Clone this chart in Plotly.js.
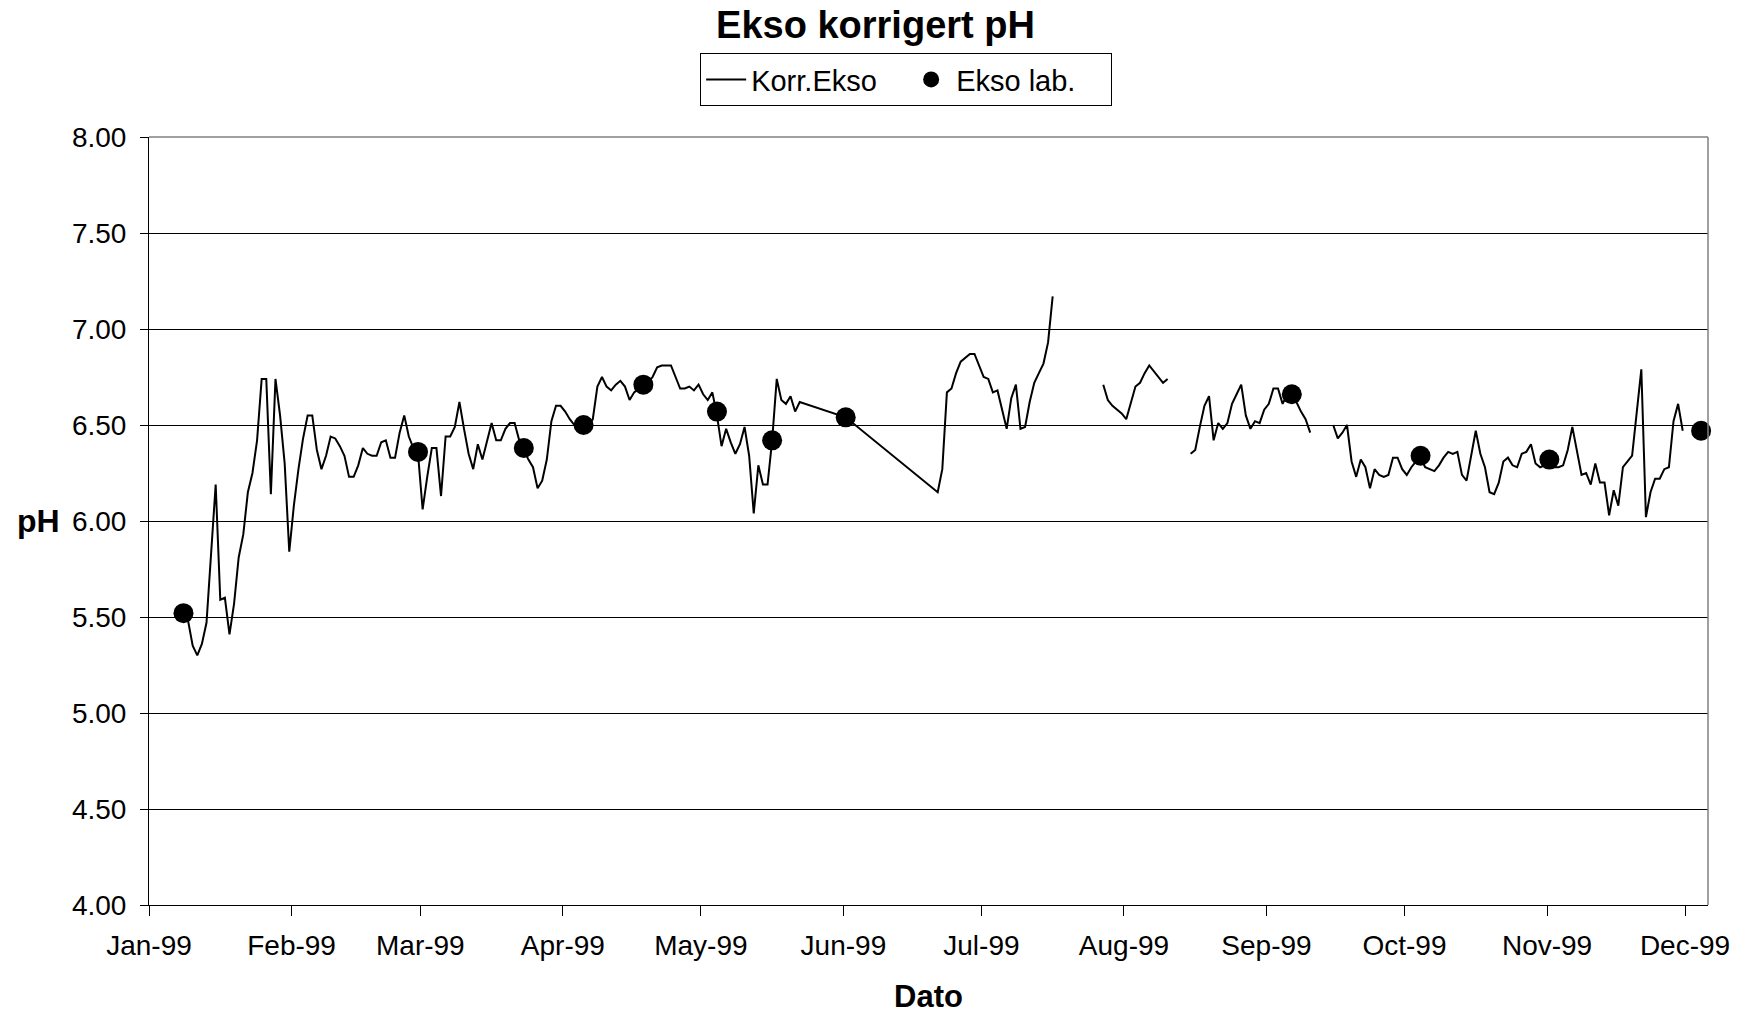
<!DOCTYPE html>
<html>
<head>
<meta charset="utf-8">
<script src="https://cdn.plot.ly/plotly-3.0.1.min.js"></script>
<style>html,body{margin:0;padding:0;background:#fff;}#chart{width:1751px;height:1020px;}</style>
</head>
<body>
<div id="chart"></div>
<script>
// Korr.Ekso daily series (null = gap in the record)
const korrDates = [
 '1999-01-08','1999-01-09','1999-01-10','1999-01-11','1999-01-12','1999-01-13','1999-01-15','1999-01-16','1999-01-17','1999-01-18','1999-01-19','1999-01-20','1999-01-21','1999-01-22','1999-01-23','1999-01-24','1999-01-25','1999-01-26','1999-01-27','1999-01-28','1999-01-29','1999-01-30','1999-01-31',
 '1999-02-01','1999-02-02','1999-02-03','1999-02-04','1999-02-05','1999-02-06','1999-02-07','1999-02-08','1999-02-09','1999-02-10','1999-02-11','1999-02-12','1999-02-13','1999-02-14','1999-02-15','1999-02-16','1999-02-17','1999-02-18','1999-02-19','1999-02-20','1999-02-21','1999-02-22','1999-02-23','1999-02-24','1999-02-25','1999-02-26','1999-02-27','1999-02-28',
 '1999-03-01','1999-03-02','1999-03-03','1999-03-04','1999-03-05','1999-03-06','1999-03-07','1999-03-08','1999-03-09','1999-03-10','1999-03-11','1999-03-12','1999-03-13','1999-03-14','1999-03-15','1999-03-16','1999-03-17','1999-03-18','1999-03-19','1999-03-20','1999-03-21','1999-03-22','1999-03-23','1999-03-24','1999-03-25','1999-03-26','1999-03-27','1999-03-28','1999-03-29','1999-03-30','1999-03-31',
 '1999-04-01','1999-04-02','1999-04-03','1999-04-04','1999-04-05','1999-04-06','1999-04-07','1999-04-08','1999-04-09','1999-04-10','1999-04-11','1999-04-12','1999-04-13','1999-04-14','1999-04-15','1999-04-16','1999-04-17','1999-04-18','1999-04-19','1999-04-20','1999-04-21','1999-04-22','1999-04-23','1999-04-24','1999-04-25','1999-04-26','1999-04-27','1999-04-28','1999-04-29','1999-04-30',
 '1999-05-01','1999-05-02','1999-05-03','1999-05-04','1999-05-05','1999-05-06','1999-05-07','1999-05-08','1999-05-09','1999-05-10','1999-05-11','1999-05-12','1999-05-13','1999-05-14','1999-05-15','1999-05-16','1999-05-17','1999-05-18','1999-05-19','1999-05-20','1999-05-21','1999-05-22',
 '1999-06-01','1999-06-21','1999-06-22','1999-06-23','1999-06-24','1999-06-25','1999-06-26','1999-06-27','1999-06-28','1999-06-29','1999-06-30',
 '1999-07-01','1999-07-02','1999-07-03','1999-07-04','1999-07-05','1999-07-06','1999-07-07','1999-07-08','1999-07-09','1999-07-10','1999-07-11','1999-07-12','1999-07-13','1999-07-14','1999-07-15','1999-07-16','1999-07-20','1999-07-27','1999-07-28','1999-07-29','1999-07-30','1999-07-31',
 '1999-08-01','1999-08-02','1999-08-03','1999-08-04','1999-08-05','1999-08-06','1999-08-07','1999-08-08','1999-08-09','1999-08-10','1999-08-12','1999-08-15','1999-08-16','1999-08-17','1999-08-18','1999-08-19','1999-08-20','1999-08-21','1999-08-22','1999-08-23','1999-08-24','1999-08-25','1999-08-26','1999-08-27','1999-08-28','1999-08-29','1999-08-30','1999-08-31',
 '1999-09-01','1999-09-02','1999-09-03','1999-09-04','1999-09-05','1999-09-06','1999-09-07','1999-09-08','1999-09-09','1999-09-10','1999-09-12','1999-09-15','1999-09-16','1999-09-17','1999-09-18','1999-09-19','1999-09-20','1999-09-21','1999-09-22','1999-09-23','1999-09-24','1999-09-25','1999-09-26','1999-09-27','1999-09-28','1999-09-29','1999-09-30',
 '1999-10-01','1999-10-02','1999-10-03','1999-10-04','1999-10-05','1999-10-06','1999-10-07','1999-10-08','1999-10-09','1999-10-10','1999-10-11','1999-10-12','1999-10-13','1999-10-14','1999-10-15','1999-10-16','1999-10-17','1999-10-18','1999-10-19','1999-10-20','1999-10-21','1999-10-22','1999-10-23','1999-10-24','1999-10-25','1999-10-26','1999-10-27','1999-10-28','1999-10-29','1999-10-30','1999-10-31',
 '1999-11-01','1999-11-02','1999-11-03','1999-11-04','1999-11-05','1999-11-06','1999-11-07','1999-11-08','1999-11-09','1999-11-10','1999-11-11','1999-11-12','1999-11-13','1999-11-14','1999-11-15','1999-11-16','1999-11-17','1999-11-18','1999-11-19','1999-11-21','1999-11-22','1999-11-23','1999-11-24','1999-11-25','1999-11-26','1999-11-27','1999-11-28','1999-11-29','1999-11-30'
];
const korrPH = [
 5.52,5.48,5.35,5.30,5.36,5.47,6.19,5.59,5.60,5.41,5.57,5.81,5.93,6.15,6.25,6.42,6.74,6.74,6.14,6.74,6.55,6.30,5.84,
 6.08,6.27,6.43,6.55,6.55,6.37,6.27,6.34,6.44,6.43,6.39,6.34,6.23,6.23,6.29,6.38,6.35,6.34,6.34,6.41,6.42,6.33,6.33,6.46,6.55,6.44,6.38,6.35,
 6.06,6.23,6.38,6.38,6.13,6.44,6.44,6.49,6.62,6.48,6.35,6.27,6.40,6.32,6.42,6.51,6.42,6.42,6.48,6.51,6.51,6.42,6.37,6.32,6.28,6.17,6.21,6.32,6.52,6.60,6.60,
 6.57,6.53,6.50,6.50,6.50,6.50,6.53,6.70,6.75,6.70,6.68,6.71,6.73,6.70,6.63,6.67,6.69,6.71,6.72,6.75,6.80,6.81,6.81,6.81,6.75,6.69,6.69,6.70,6.68,6.71,
 6.66,6.63,6.67,6.55,6.39,6.48,6.41,6.35,6.40,6.49,6.34,6.04,6.29,6.19,6.19,6.42,6.74,6.63,6.61,6.65,6.57,6.62,
 6.54,6.15,6.27,6.67,6.69,6.77,6.83,6.85,6.87,6.87,6.81,
 6.75,6.74,6.67,6.68,6.58,6.48,6.64,6.71,6.48,6.49,6.62,6.72,6.77,6.82,6.93,7.17,null,6.71,6.63,6.60,6.58,6.56,
 6.53,6.62,6.70,6.72,6.77,6.81,6.78,6.75,6.72,6.74,null,6.35,6.37,6.49,6.60,6.65,6.42,6.51,6.48,6.51,6.61,6.66,6.71,6.55,6.48,6.52,6.51,6.58,
 6.61,6.69,6.69,6.61,6.66,6.66,6.62,6.57,6.53,6.46,null,6.50,6.43,6.46,6.50,6.31,6.23,6.32,6.28,6.17,6.27,6.24,6.23,6.24,6.33,6.33,6.27,
 6.24,6.28,6.31,6.33,6.28,6.27,6.26,6.29,6.33,6.36,6.35,6.36,6.24,6.21,6.35,6.47,6.35,6.28,6.15,6.14,6.20,6.31,6.33,6.29,6.28,6.35,6.36,6.40,6.30,6.28,6.29,
 6.30,6.28,6.28,6.29,6.37,6.49,6.36,6.24,6.25,6.19,6.30,6.20,6.20,6.03,6.16,6.08,6.28,6.31,6.34,6.79,6.02,6.15,6.22,6.22,6.27,6.28,6.52,6.61,6.47
];
// Ekso lab. samples
const labDates = ['1999-01-08','1999-02-28','1999-03-23','1999-04-05','1999-04-18','1999-05-04','1999-05-16','1999-06-01','1999-09-06','1999-10-04','1999-11-01','1999-12-04'];
const labPH = [5.52,6.36,6.38,6.50,6.71,6.57,6.42,6.54,6.66,6.34,6.32,6.47];

const seriesNames = ['Korr.Ekso', 'Ekso lab.'];
const chartTitle = 'Ekso korrigert pH';
const xTitle = 'Dato';
const yTitle = 'pH';

// Excel date axis places each day's value in the middle of its day slot
const mid = d => d + ' 12:00';
const FONT = 'Liberation Sans, Arial, Helvetica, sans-serif';

const traces = [
  {
    x: korrDates.map(mid), y: korrPH, name: seriesNames[0], type: 'scatter', mode: 'lines',
    line: {color: '#000', width: 2}, connectgaps: false
  },
  {
    x: labDates.map(mid), y: labPH, name: seriesNames[1], type: 'scatter', mode: 'markers',
    marker: {color: '#000', size: 20, symbol: 'circle'}, cliponaxis: false
  }
];

const layout = {
  width: 1751, height: 1020,
  paper_bgcolor: '#fff', plot_bgcolor: '#fff',
  margin: {l: 149, r: 43, t: 137, b: 115, pad: 0},
  font: {family: FONT, color: '#000', size: 28},
  title: {text: chartTitle, font: {family: FONT, size: 38, weight: 'bold', color: '#000'},
          x: 0.5, xref: 'container', xanchor: 'center', y: 0.976, yref: 'container', yanchor: 'middle'},
  showlegend: true,
  legend: {orientation: 'h', xref: 'container', yref: 'container', x: 0.5175, xanchor: 'center', y: 0.948, yanchor: 'top',
           bordercolor: '#000', borderwidth: 1, bgcolor: '#fff', font: {family: FONT, size: 29, color: '#000'},
           itemwidth: 40, entrywidth: 150, entrywidthmode: 'pixels'},
  xaxis: {
    type: 'date', range: ['1999-01-01', '1999-12-06'],
    tick0: '1999-01-01', dtick: 'M1', tickformat: '%b-%y',
    ticks: 'outside', ticklen: 10, tickwidth: 1, tickcolor: '#000', ticklabelstandoff: 5,
    showline: true, linecolor: '#000', linewidth: 1, showgrid: false, zeroline: false,
    tickfont: {family: FONT, size: 28, color: '#000'},
    title: {text: xTitle, font: {family: FONT, size: 31, weight: 'bold', color: '#000'}, standoff: 25}
  },
  yaxis: {
    range: [4, 8], tick0: 4, dtick: 0.5, tickformat: '.2f',
    ticks: 'outside', ticklen: 8, tickwidth: 1, tickcolor: '#000', ticklabelstandoff: 8,
    showline: true, linecolor: '#000', linewidth: 1,
    showgrid: true, gridcolor: '#000', gridwidth: 1, zeroline: false,
    tickfont: {family: FONT, size: 28, color: '#000'}
  },
  annotations: [
    {text: yTitle, xref: 'paper', yref: 'paper', x: -0.0706, y: 0.5, xanchor: 'center', yanchor: 'middle',
     showarrow: false, font: {family: FONT, size: 32, weight: 'bold', color: '#000'}}
  ],
  shapes: [
    {type: 'line', xref: 'paper', yref: 'paper', x0: 0, x1: 1, y0: 1, y1: 1, line: {color: '#808080', width: 1.5}, layer: 'above'},
    {type: 'line', xref: 'paper', yref: 'paper', x0: 1, x1: 1, y0: 0, y1: 1, line: {color: '#808080', width: 1.5}, layer: 'above'}
  ]
};

Plotly.newPlot('chart', traces, layout, {displayModeBar: false, staticPlot: true});
</script>
</body>
</html>
